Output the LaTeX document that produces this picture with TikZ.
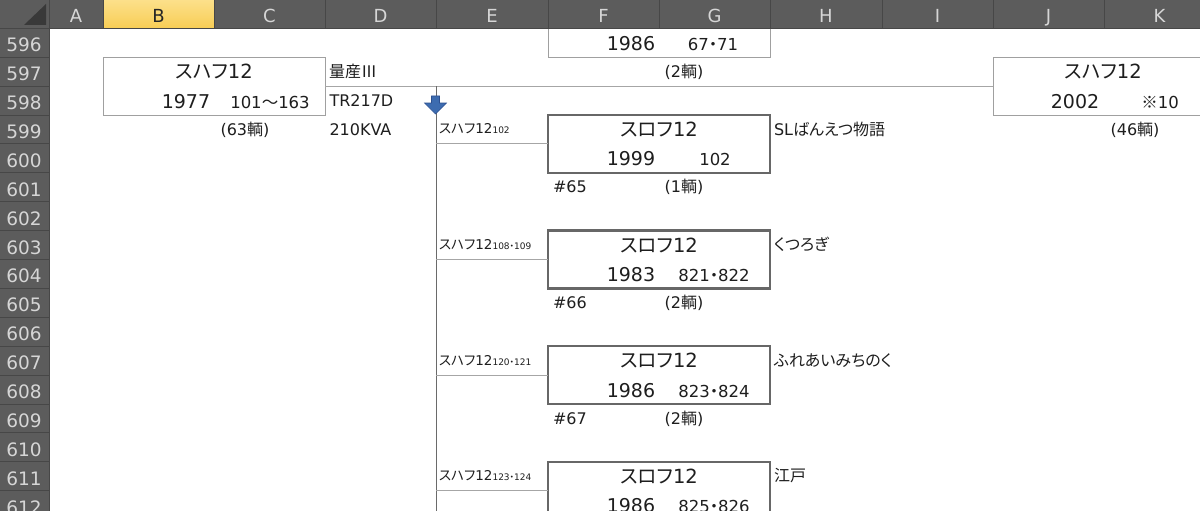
\documentclass[tikz,border=0pt]{standalone}
\usepackage{fontspec}
\setmainfont{DejaVu Sans}
\newfontfamily\jp[RawFeature=+palt]{Noto Sans CJK JP}
\definecolor{hdbg}{HTML}{5C5C5C}
\definecolor{hdline}{HTML}{474747}
\definecolor{hdtext}{HTML}{D6D6D6}
\definecolor{hdsel}{HTML}{F8CD55}
\definecolor{hdselt}{HTML}{FCE08A}
\definecolor{thinbd}{HTML}{A0A0A0}
\definecolor{thickbd}{HTML}{676767}
\definecolor{connc}{HTML}{A6A6A6}
\definecolor{vlinec}{HTML}{6A6A6A}
\definecolor{arrowc}{HTML}{3D6CB0}
\definecolor{arrowd}{HTML}{2C5090}
\definecolor{txtc}{HTML}{1E1E1E}
\tikzset{
  txt/.style={inner sep=0pt, outer sep=0pt, text=txtc},
  ttl/.style={txt, anchor=base, font=\fontsize{19.5}{20}\selectfont},
  yr/.style={txt, anchor=base, font=\fontsize{19}{20}\selectfont},
  numt/.style={txt, anchor=base, font=\fontsize{16.5}{18}\selectfont},
  cellt/.style={txt, anchor=base west, font=\fontsize{16}{18}\selectfont},
  cellc/.style={txt, anchor=base, font=\fontsize{16}{18}\selectfont},
  lbl/.style={txt, anchor=base west, font=\fontsize{13.5}{15}\selectfont},
  colhd/.style={inner sep=0pt, anchor=base, font=\fontsize{18}{18}\selectfont, text=hdtext},
  rowhd/.style={inner sep=0pt, anchor=base, font=\fontsize{18.5}{18}\selectfont, text=hdtext},
  thinbox/.style={draw=thinbd, line width=1pt, minimum width=222pt, minimum height=57.8pt, inner sep=0pt, outer sep=0pt},
  thickbox/.style={draw=thickbd, line width=2.5pt, minimum width=222pt, minimum height=57.8pt, inner sep=0pt, outer sep=0pt},
  conn/.style={draw=connc, line width=1pt},
  vconn/.style={draw=vlinec, line width=1pt},
}
\newcommand\sm[1]{{\fontsize{9}{10}\selectfont #1}}
\begin{document}
\begin{tikzpicture}[x=1pt,y=-1pt]
\useasboundingbox (0,0) rectangle (1200,511);
\clip (0,0) rectangle (1200,511);
\fill[white] (0,0) rectangle (1200,511);

% ---------- boxes ----------
\node[thinbox] (bxB) at (214,86.15) {};
\node[thinbox] (bxF) at (659,28.3) {};
\node[thinbox] (bxJ) at (1104,86.15) {};
\node[thickbox] (b1) at (659,143.9) {};
\node[thickbox] (b2) at (659,259.5) {};
\node[thickbox] (b3) at (659,375.1) {};
\node[thickbox] (b4) at (659,490.7) {};

% ---------- connectors ----------
\coordinate (vtop) at (436,86.15);
\coordinate (vbot) at (436,530);
\draw[conn] (bxB.east) -- (bxJ.west);
\draw[vconn] (vtop) -- (vbot);
\draw[conn] (b1.west -| vtop) -- (b1.west);
\draw[conn] (b2.west -| vtop) -- (b2.west);
\draw[conn] (b3.west -| vtop) -- (b3.west);
\draw[conn] (b4.west -| vtop) -- (b4.west);

% blue arrow
\filldraw[fill=arrowc, draw=arrowd, line width=0.6pt]
  (431.5,96) -- (439.5,96) -- (439.5,103) -- (446.5,103) -- (435.5,114)
  -- (424.5,103) -- (431.5,103) -- cycle;

% ---------- top texts ----------
\node[ttl] (tB) at (214,78.6) {{\jp スハフ}12};
\node[yr] (yB) at (186,108.1) {1977};
\node[numt] (nB) at (270,108.1) {101{\jp 〜}163};
\node[cellc] (cB) at (245,135.1) {(63{\jp 輌})};
\node[cellt] (d1) at (329,77.3) {{\jp 量産Ⅲ}};
\node[cellt] (d2) at (329.5,106.2) {TR217D};
\node[cellt] (d3) at (329.5,135.1) {210KVA};

\node[yr] (yF) at (631,50.2) {1986};
\node[numt] (nF) at (713,50.2) {67{\jp ・}71};
\node[cellc] (cF) at (684,77.3) {(2{\jp 輌})};

\node[ttl] (tJ) at (1103,78.6) {{\jp スハフ}12};
\node[yr] (yJ) at (1075,108.1) {2002};
\node[numt] (nJ) at (1160,108.1) {{\jp ※}10};
\node[cellc] (cJ) at (1135,135.1) {(46{\jp 輌})};

% ---------- branch 1 ----------
\node[lbl] (l1) at (439,133.9) {{\jp スハフ}12\sm{102}};
\node[ttl] (t1) at (659,136.4) {{\jp スロフ}12};
\node[yr] (y1) at (631,165.8) {1999};
\node[numt] (n1) at (715,165.8) {102};
\node[cellt] (r1) at (774,135.1) {SL{\jp ばんえつ物語}};
\node[cellt] (h1) at (553,192.9) {\#65};
\node[cellc] (c1) at (684,192.9) {(1{\jp 輌})};

% ---------- branch 2 ----------
\node[lbl] (l2) at (439,249.5) {{\jp スハフ}12\sm{108{\jp ・}109}};
\node[ttl] (t2) at (659,252.0) {{\jp スロフ}12};
\node[yr] (y2) at (631,281.4) {1983};
\node[numt] (n2) at (714,281.4) {821{\jp ・}822};
\node[cellt] (r2) at (774,250.7) {{\jp くつろぎ}};
\node[cellt] (h2) at (553,308.5) {\#66};
\node[cellc] (c2) at (684,308.5) {(2{\jp 輌})};

% ---------- branch 3 ----------
\node[lbl] (l3) at (439,365.1) {{\jp スハフ}12\sm{120{\jp ・}121}};
\node[ttl] (t3) at (659,367.6) {{\jp スロフ}12};
\node[yr] (y3) at (631,397.0) {1986};
\node[numt] (n3) at (714,397.0) {823{\jp ・}824};
\node[cellt] (r3) at (774,366.3) {{\jp ふれあいみちのく}};
\node[cellt] (h3) at (553,424.1) {\#67};
\node[cellc] (c3) at (684,424.1) {(2{\jp 輌})};

% ---------- branch 4 ----------
\node[lbl] (l4) at (439,480.7) {{\jp スハフ}12\sm{123{\jp ・}124}};
\node[ttl] (t4) at (659,483.2) {{\jp スロフ}12};
\node[yr] (y4) at (631,512.6) {1986};
\node[numt] (n4) at (714,512.6) {825{\jp ・}826};
\node[cellt] (r4) at (774,481.9) {{\jp 江戸}};

% ---------- spreadsheet headers ----------
\fill[hdbg] (0,0) rectangle (1200,28.3);
\fill[hdbg] (0,0) rectangle (49,511);
\shade[top color=hdselt, bottom color=hdsel] (103,0) rectangle (214,28.3);
\fill[hdline!80!black] (24,25) -- (46,25) -- (46,4) -- cycle;
\foreach \cx in {49,103,214,325,436,548,659,770,882,993,1104}
  \draw[hdline, line width=1pt] (\cx,0) -- (\cx,28.3);
\foreach \k in {1,...,17}
  \draw[hdline, line width=1pt] (0,28.3+28.9*\k) -- (49,28.3+28.9*\k);
\draw[hdline, line width=1pt] (0,28.3) -- (1200,28.3);
\draw[hdline, line width=1pt] (49,28.3) -- (49,511);

\node[colhd] (hA) at (76,23) {A};
\node[colhd, text=black!85] (hB) at (158.5,23) {B};
\node[colhd] (hC) at (269.5,23) {C};
\node[colhd] (hD) at (380.5,23) {D};
\node[colhd] (hE) at (492,23) {E};
\node[colhd] (hF) at (603.5,23) {F};
\node[colhd] (hG) at (714.5,23) {G};
\node[colhd] (hH) at (826,23) {H};
\node[colhd] (hI) at (937.5,23) {I};
\node[colhd] (hJ) at (1048.5,23) {J};
\node[colhd] (hK) at (1159.5,23) {K};

\foreach \k [evaluate=\k as \rn using int(596+\k)] in {0,...,16}
  \node[rowhd] (rn\k) at (24,51.7+28.9*\k) {\rn};
\end{tikzpicture}
\end{document}
